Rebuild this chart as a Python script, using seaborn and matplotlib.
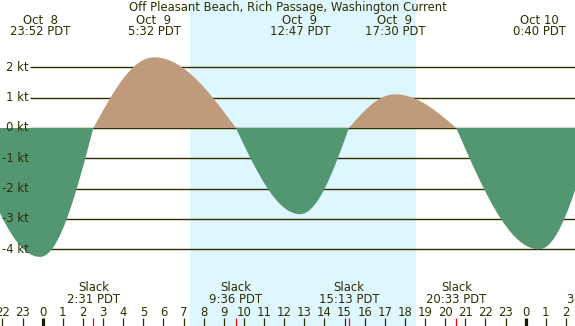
import numpy as np
import pandas as pd
import matplotlib
matplotlib.use("Agg")
import matplotlib.pyplot as plt
import seaborn as sns

# =============================================================================
# DATA - tidal current events, hours counted from Oct 9 00:00 PDT
# =============================================================================
title = "Off Pleasant Beach, Rich Passage, Washington Current"

# max / slack events (first and last slack lie outside the picture, estimated)
event_hours = [-3.81, -0.133, 2.517, 5.533, 9.6, 12.783, 15.217, 17.5, 20.55, 24.667, 27.38]
event_kt = [0.0, -4.25, 0.0, 2.33, 0.0, -2.84, 0.0, 1.11, 0.0, -4.0, 0.0]

# labels at the top (maximum flood / ebb)
max_hours = [-0.133, 5.533, 12.783, 17.5, 24.667]
max_dates = ["Oct  8", "Oct  9", "Oct  9", "Oct  9", "Oct 10"]
max_times = ["23:52 PDT", "5:32 PDT", "12:47 PDT", "17:30 PDT", "0:40 PDT"]

# labels at the bottom (slack water)
slack_hours = [2.517, 9.6, 15.217, 20.55, 27.38]
slack_times = ["2:31 PDT", "9:36 PDT", "15:13 PDT", "20:33 PDT", "3:23 PDT"]

# hour axis
hour_values = list(range(-2, 27))
hour_labels = [str(h % 24) for h in hour_values]

kt_levels = [2, 1, 0, -1, -2, -3, -4]
sunrise, sunset = 7.32, 18.55

# =============================================================================
# STYLE
# =============================================================================
night_col = "#b0c4da"
day_col = "#def6fe"
flood_col = "#be9b7a"
ebb_col = "#529672"
ink = "#2e2e00"

sns.set_style("white")
plt.rcParams["font.family"] = ["DejaVu Sans"]
fs = 8.4

# smooth curve: quarter sine waves between the events
hrs = np.linspace(-2.3, 26.7, 2000)
vals = np.zeros_like(hrs)
for i in range(len(event_hours) - 1):
    t0, t1 = event_hours[i], event_hours[i + 1]
    m = (hrs >= t0) & (hrs <= t1)
    f = (hrs[m] - t0) / (t1 - t0)
    if event_kt[i] == 0:
        vals[m] = event_kt[i + 1] * np.sin(np.pi / 2 * f)
    else:
        vals[m] = event_kt[i] * np.cos(np.pi / 2 * f)
curve = pd.DataFrame({"hour": hrs, "kt": vals})

fig = plt.figure(figsize=(5.75, 3.26), dpi=100)
ax = fig.add_axes([0, 0, 1, 1])
ax.set_facecolor(night_col)

px_per_hr = 20.125
x0_px = 42.7
ax.set_xlim((0 - x0_px) / px_per_hr, (575 - x0_px) / px_per_hr)
ax.set_ylim(-(326 - 128) / 30.33, 128 / 30.33)

ax.axvspan(sunrise, sunset, color=day_col, lw=0, zorder=1)

# grid lines and kt labels
x_line0 = (30 - x0_px) / px_per_hr
ax.hlines(kt_levels, x_line0, 30, color=ink, lw=1.0, zorder=2)
for k in kt_levels:
    ax.text((28.5 - x0_px) / px_per_hr, k, f"{k} kt", ha="right", va="center",
            fontsize=fs, color=ink, zorder=6)

# flood / ebb areas
ax.fill_between(curve["hour"], curve["kt"], 0, where=curve["kt"] >= 0,
                interpolate=True, color=flood_col, lw=0, zorder=3)
ax.fill_between(curve["hour"], curve["kt"], 0, where=curve["kt"] <= 0,
                interpolate=True, color=ebb_col, lw=0, zorder=3)
sns.lineplot(data=curve, x="hour", y="kt", ax=ax, color=ebb_col, lw=0.0,
             estimator=None, sort=False, zorder=3)

# top labels
xt = ax.get_xaxis_transform()
fig.text(0.5, 1 - 7.3 / 326, title, ha="center", va="center", fontsize=fs, color=ink)
for h, d, t in zip(max_hours, max_dates, max_times):
    ax.text(h, 1 - 20 / 326, d, transform=xt, ha="center", va="center",
            fontsize=fs, color=ink, zorder=6)
    ax.text(h, 1 - 31.7 / 326, t, transform=xt, ha="center", va="center",
            fontsize=fs, color=ink, zorder=6)

# bottom labels
for h, t in zip(slack_hours, slack_times):
    ax.text(h, 1 - 287.3 / 326, "Slack", transform=xt, ha="center", va="center",
            fontsize=fs, color=ink, zorder=6)
    ax.text(h, 1 - 299.3 / 326, t, transform=xt, ha="center", va="center",
            fontsize=fs, color=ink, zorder=6)

tick_top = 8 / 326
for h, lab in zip(hour_values, hour_labels):
    ax.text(h, 1 - 312.3 / 326, lab, transform=xt, ha="center", va="center",
            fontsize=fs, color=ink, zorder=6)
    if h % 24 == 0:
        ax.vlines(h, 0, tick_top, transform=xt, color="#1a1a00", lw=2.3, zorder=6)
    else:
        ax.vlines(h, 0, tick_top, transform=xt, color=ink, lw=0.9, zorder=6)
ax.vlines(slack_hours, 0, tick_top, transform=xt, color="#ff0000", lw=0.9, zorder=7)

ax.set_axis_off()
ax.set_xlabel("")
ax.set_ylabel("")
fig.savefig("out.png", dpi=100)
